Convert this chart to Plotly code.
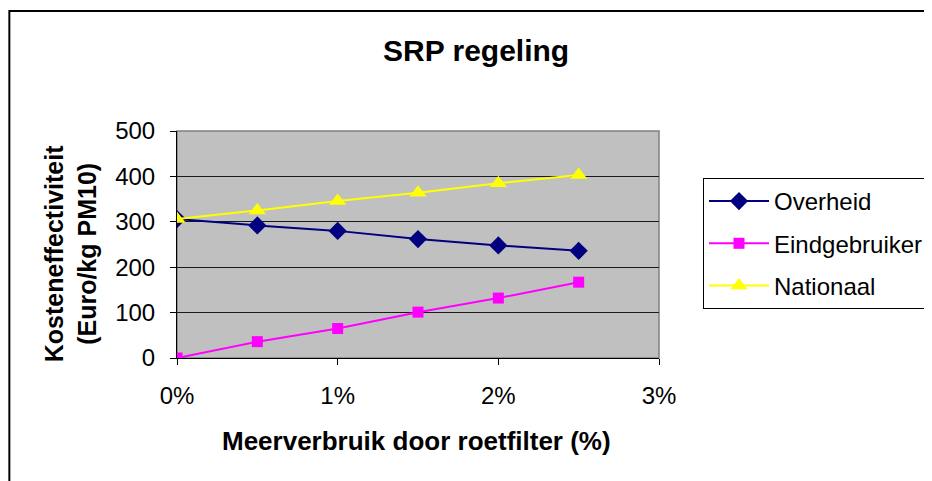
import plotly.graph_objects as go

x_vals = [0.0, 0.005, 0.01, 0.015, 0.02, 0.025]
overheid = [306, 292, 280, 262, 248, 236]
eindgebruiker = [0, 36, 65, 101, 132, 167]
nationaal = [306, 325, 346, 364, 385, 403]

title_text = "SRP regeling"
x_title = "Meerverbruik door roetfilter (%)"
y_title = "Kosteneffectiviteit<br>(Euro/kg PM10)"

FONT = "Liberation Sans, Arial, sans-serif"

# page has an 8px body margin; plot area target: x 177..660, y 131..358 (page px)
PL, PR, PT, PB = 177, 660, 131, 358
W, H = 932, 481
OFF = 8


def px(x):
    return (x - PL) / (PR - PL)


def py(y):
    return (PB - y) / (PB - PT)


fig = go.Figure()
fig.add_trace(go.Scatter(x=x_vals, y=overheid, name="Overheid", mode="lines+markers",
                         legendgroup="a",
                         line=dict(color="#000080", width=2),
                         marker=dict(symbol="diamond", size=14, color="#000080")))
fig.add_trace(go.Scatter(x=x_vals, y=eindgebruiker, name="Eindgebruiker", mode="lines+markers",
                         legendgroup="b",
                         line=dict(color="#FF00FF", width=2),
                         marker=dict(symbol="square", size=11, color="#FF00FF")))
fig.add_trace(go.Scatter(x=x_vals, y=nationaal, name="Nationaal", mode="lines+markers",
                         legendgroup="c",
                         line=dict(color="#FFFF00", width=2),
                         marker=dict(symbol="triangle-up", size=15, color="#FFFF00")))

fig.update_layout(
    width=W, height=H,
    margin=dict(l=PL - OFF, r=W + OFF - PR, t=PT - OFF, b=H + OFF - PB),
    paper_bgcolor="white", plot_bgcolor="#C0C0C0",
    font=dict(family=FONT, size=24, color="black"),
    showlegend=True,
    legend=dict(x=px(703), y=py(178), xanchor="left", yanchor="top",
                bordercolor="black", borderwidth=1, bgcolor="white",
                font=dict(size=24, family=FONT), tracegroupgap=8,
                traceorder="grouped", itemwidth=60),
)
fig.add_annotation(text="<b>" + title_text + "</b>", xref="paper", yref="paper",
                   x=px(477), y=py(51), xanchor="center", yanchor="middle",
                   showarrow=False, font=dict(size=30, family=FONT))
fig.add_annotation(text="<b>" + x_title + "</b>", xref="paper", yref="paper",
                   x=px(417), y=py(441), xanchor="center", yanchor="middle",
                   showarrow=False, font=dict(size=26, family=FONT))
fig.add_annotation(text="<b>" + y_title + "</b>", xref="paper", yref="paper",
                   x=px(70), y=py(254), xanchor="center", yanchor="middle",
                   textangle=-90, showarrow=False, font=dict(size=25, family=FONT))

fig.update_xaxes(range=[0, 0.03], dtick=0.01, tick0=0, tickformat=".0%",
                 showgrid=False, zeroline=False, ticks="outside", ticklen=6,
                 tickcolor="black", showline=True, linecolor="black", linewidth=1,
                 ticklabelstandoff=10, tickfont=dict(size=24))
fig.update_yaxes(range=[0, 500], dtick=100, showgrid=True, gridcolor="#1a1a1a", gridwidth=1,
                 zeroline=False, ticks="outside", ticklen=6, tickcolor="black",
                 showline=True, linecolor="black", linewidth=1,
                 ticklabelstandoff=10, tickfont=dict(size=24))

# plot area border (gray)
fig.add_shape(type="rect", xref="paper", yref="paper", x0=0, y0=0, x1=1, y1=1,
              line=dict(color="#808080", width=1.5), layer="below")
# outer chart border
fig.add_shape(type="rect", xref="paper", yref="paper",
              x0=px(9), y0=-1.0, x1=1.7, y1=py(11),
              line=dict(color="black", width=2))

fig.write_html("out.html")
